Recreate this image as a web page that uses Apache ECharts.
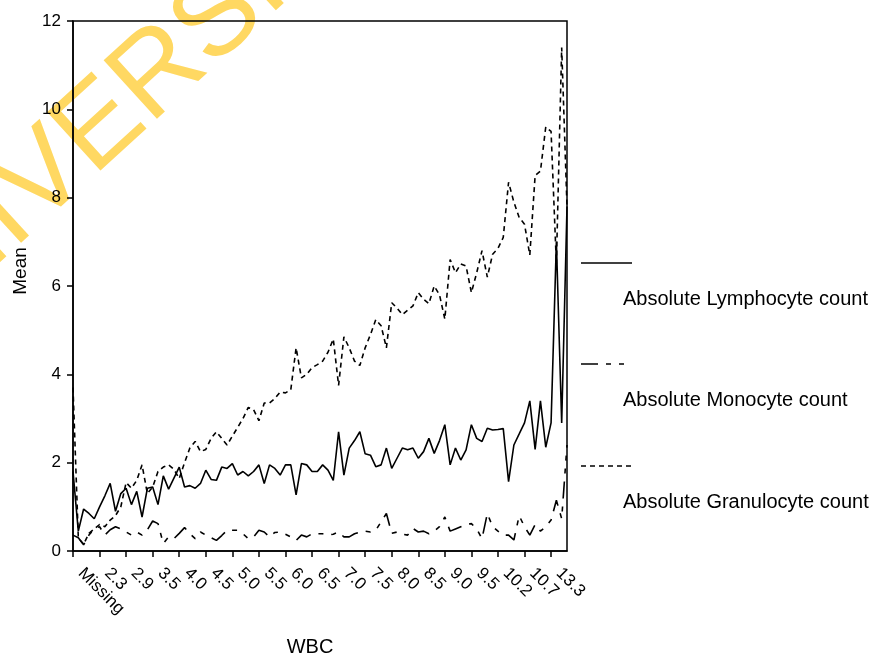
<!DOCTYPE html>
<html lang="en">
<head>
    <meta charset="UTF-8">
    <title>WBC</title>
    <script src="https://cdn.jsdelivr.net/npm/echarts@6/dist/echarts.min.js"></script>
    <style>
      *{margin:0;padding:0}
      html,body{width:100%;height:100%;background:#fff}
      #main{width:877px;height:655px}
    </style>
</head>
<body>
<div id="main"></div>
<script>
    var chart = echarts.init(document.getElementById('main'));

    // WBC categories (label shown every 5th)
    var categories = ['Missing','1.9','2.0','2.1','2.2','2.3','2.4','2.5','2.6','2.8','2.9',
        '3.0','3.1','3.2','3.4','3.5','3.6','3.7','3.8','3.9','4.0',
        '4.1','4.2','4.3','4.4','4.5','4.6','4.7','4.8','4.9','5.0',
        '5.1','5.2','5.3','5.4','5.5','5.6','5.7','5.8','5.9','6.0',
        '6.1','6.2','6.3','6.4','6.5','6.6','6.7','6.8','6.9','7.0',
        '7.1','7.2','7.3','7.4','7.5','7.6','7.7','7.8','7.9','8.0',
        '8.1','8.2','8.3','8.4','8.5','8.6','8.7','8.8','8.9','9.0',
        '9.1','9.2','9.3','9.4','9.5','9.6','9.8','9.9','10.0','10.2',
        '10.3','10.4','10.5','10.6','10.7','10.9','11.3','11.6','12.2','13.3',
        '13.9','15.1','17.8'];

    var lymphocyte = [1.8,0.45,0.95,0.85,0.73,1.0,1.25,1.53,0.9,1.3,
        1.42,1.05,1.35,0.77,1.42,1.45,1.05,1.7,1.4,1.65,
        1.9,1.45,1.48,1.42,1.53,1.83,1.62,1.6,1.9,1.87,
        1.98,1.72,1.8,1.7,1.8,1.95,1.53,1.95,1.87,1.72,
        1.95,1.95,1.27,1.98,1.95,1.8,1.8,1.95,1.83,1.6,
        2.7,1.72,2.33,2.5,2.7,2.2,2.17,1.91,1.95,2.33,
        1.87,2.1,2.33,2.29,2.33,2.1,2.25,2.55,2.21,2.5,
        2.86,1.95,2.33,2.06,2.29,2.86,2.55,2.48,2.78,2.74,
        2.75,2.77,1.57,2.4,2.65,2.9,3.4,2.3,3.4,2.35,
        2.9,7.0,2.9,7.8];

    var monocyte = [0.36,0.3,0.14,0.36,0.5,0.55,0.36,0.48,0.55,0.5,
        0.43,0.36,0.43,0.36,0.48,0.68,0.62,0.17,0.32,0.28,
        0.4,0.53,0.39,0.28,0.43,0.36,0.3,0.24,0.35,0.47,
        0.47,0.47,0.39,0.28,0.32,0.47,0.43,0.32,0.42,0.43,
        0.38,0.32,0.24,0.36,0.32,0.39,0.39,0.39,0.36,0.38,
        0.43,0.32,0.32,0.39,0.43,0.45,0.43,0.47,0.66,0.85,
        0.4,0.43,0.38,0.36,0.51,0.43,0.45,0.39,0.45,0.55,
        0.77,0.45,0.5,0.55,0.6,0.62,0.5,0.28,0.85,0.55,
        0.45,0.36,0.36,0.25,0.8,0.55,0.36,0.6,0.45,0.55,
        0.7,1.15,0.73,2.4];

    var granulocyte = [3.7,0.3,0.15,0.4,0.5,0.6,0.55,0.7,0.8,1.0,
        1.55,1.42,1.6,1.95,1.3,1.45,1.8,1.9,1.95,1.85,
        1.64,2.0,2.33,2.48,2.25,2.3,2.55,2.7,2.55,2.4,
        2.6,2.8,3.0,3.25,3.2,2.95,3.35,3.35,3.45,3.6,
        3.58,3.65,4.6,3.92,4.0,4.15,4.22,4.3,4.5,4.8,
        3.75,4.85,4.6,4.3,4.2,4.6,4.9,5.24,5.1,4.6,
        5.62,5.5,5.35,5.45,5.55,5.85,5.7,5.6,6.0,5.8,
        5.25,6.6,6.3,6.5,6.45,5.85,6.3,6.8,6.2,6.72,
        6.85,7.1,8.35,7.9,7.55,7.4,6.7,8.5,8.6,9.6,
        9.5,6.5,11.4,7.8];

    var seriesNames = ['Absolute Lymphocyte count', 'Absolute Monocyte count', 'Absolute Granulocyte count'];

    var FONT = 'Liberation Sans';
    var solid = 'solid';
    var longShort = [17, 8, 5, 8, 5, 8];   // long dash + two short
    var shortDash = [5, 4];
    var dashTypes = [solid, longShort, shortDash];

    // legend drawn by hand: sample line above the text
    var legendY = [263, 364, 466];
    var graphics = [{
        type: 'text',
        x: 124, y: 106,
        z: -10,
        rotation: 0.74,
        style: {
            text: 'UNIVERSITY',
            font: '115px "Liberation Sans"',
            fill: '#FFD862',
            textAlign: 'center',
            textVerticalAlign: 'middle'
        }
    }];
    seriesNames.forEach(function (name, i) {
        graphics.push({
            type: 'line',
            shape: {x1: 581, y1: legendY[i], x2: 632, y2: legendY[i]},
            style: {stroke: '#000', lineWidth: 1.4, lineDash: dashTypes[i] === solid ? null : dashTypes[i]}
        });
        graphics.push({
            type: 'text',
            x: 623, y: legendY[i] + 36,
            style: {text: name, font: '20px "Liberation Sans"', fill: '#000', textVerticalAlign: 'middle'}
        });
    });

    function makeLine(name, data, type) {
        return {
            name: name,
            type: 'line',
            data: data,
            symbol: 'none',
            animation: false,
            lineStyle: {color: '#000', width: 1.6, type: type}
        };
    }

    var option = {
        backgroundColor: '#fff',
        textStyle: {fontFamily: FONT},
        grid: {
            left: 73, right: 310, top: 21, bottom: 104,
            outerBoundsMode: 'none',
            show: true, borderColor: '#000', borderWidth: 1.5
        },
        xAxis: {
            type: 'category',
            data: categories,
            boundaryGap: false,
            name: 'WBC',
            nameLocation: 'middle',
            nameGap: 86,
            nameTextStyle: {fontSize: 20, color: '#000', fontFamily: FONT, padding: [0, 20, 0, 0]},
            axisLine: {lineStyle: {color: '#000', width: 1.5}},
            axisTick: {interval: 4, length: 6, lineStyle: {color: '#000', width: 1.5}},
            axisLabel: {interval: 4, rotate: -45, fontSize: 17, color: '#000', margin: 12,
                padding: [0, 0, 0, 11], fontFamily: FONT},
            splitLine: {show: false}
        },
        yAxis: {
            type: 'value',
            min: 0, max: 12, interval: 2,
            name: 'Mean',
            nameLocation: 'middle',
            nameGap: 43,
            nameRotate: 90,
            nameTextStyle: {fontSize: 19, color: '#000', fontFamily: FONT, padding: [0, 0, 0, 30]},
            axisLine: {show: true, lineStyle: {color: '#000', width: 1.5}},
            axisTick: {show: true, length: 6, lineStyle: {color: '#000', width: 1.5}},
            axisLabel: {fontSize: 17, color: '#000', margin: 12, fontFamily: FONT},
            splitLine: {show: false}
        },
        graphic: graphics,
        series: [
            makeLine(seriesNames[0], lymphocyte, solid),
            makeLine(seriesNames[1], monocyte, longShort),
            makeLine(seriesNames[2], granulocyte, shortDash)
        ]
    };
    chart.setOption(option);
</script>
</body>
</html>
